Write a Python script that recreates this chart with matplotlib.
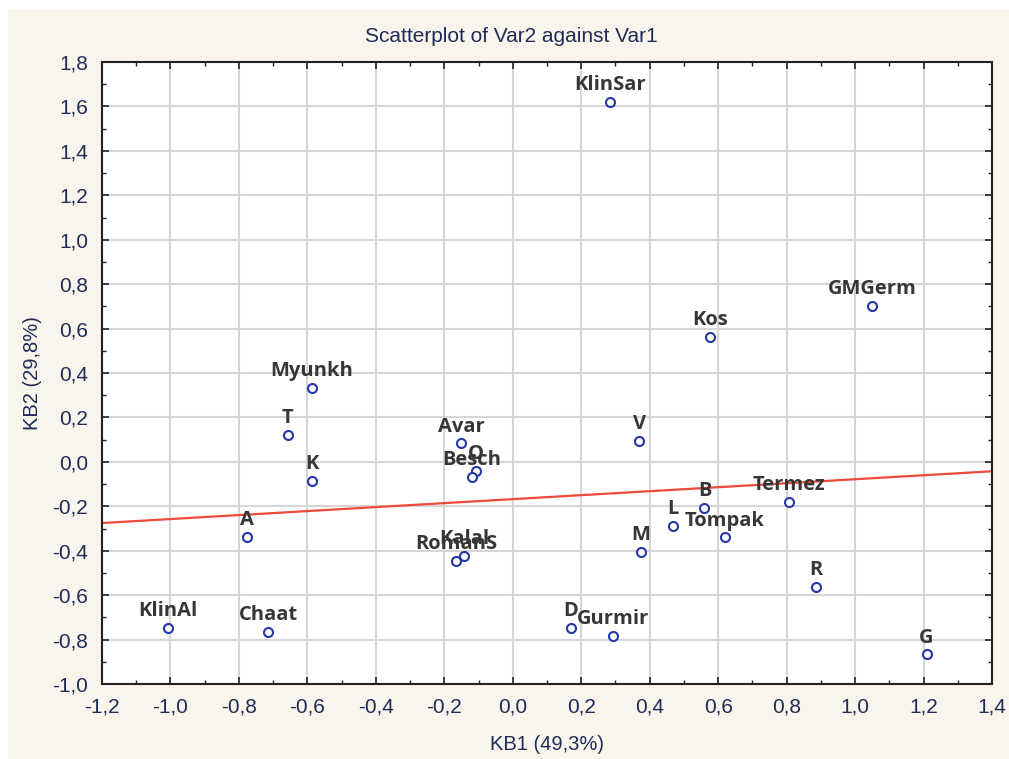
import numpy as np
import matplotlib
matplotlib.use('Agg')
import matplotlib.pyplot as plt
from matplotlib.patches import Rectangle
from matplotlib.ticker import MultipleLocator, FuncFormatter

names = ['KlinSar', 'GMGerm', 'Kos', 'Myunkh', 'T', 'K', 'Avar', 'O', 'Besch',
         'RomanS', 'Kalal', 'V', 'B', 'L', 'Tompak', 'M', 'Termez', 'R', 'G',
         'A', 'KlinAl', 'Chaat', 'D', 'Gurmir']
kb1 = [0.284, 1.050, 0.576, -0.587, -0.657, -0.587, -0.151, -0.107, -0.119,
       -0.166, -0.142, 0.369, 0.560, 0.469, 0.619, 0.374, 0.808, 0.885, 1.209,
       -0.776, -1.007, -0.715, 0.170, 0.293]
kb2 = [1.620, 0.701, 0.562, 0.332, 0.121, -0.087, 0.083, -0.041, -0.069,
       -0.447, -0.424, 0.094, -0.207, -0.288, -0.340, -0.405, -0.180, -0.564, -0.867,
       -0.339, -0.748, -0.766, -0.748, -0.784]

W, H = 1009, 759
fig = plt.figure(figsize=(W / 100, H / 100), dpi=100, facecolor='white')
fig.patches.append(Rectangle((8 / W, 0), 1, 1 - 10 / H, transform=fig.transFigure,
                             facecolor='#f9f5ec', edgecolor='none', zorder=-10))

ax = fig.add_axes([102 / W, 75 / H, 890 / W, 622 / H])
ax.set_facecolor('white')

tick_col = '#1f2c58'
comma = FuncFormatter(lambda v, p: f'{v:.1f}'.replace('.', ',').replace('-0,0', '0,0'))

# linear fit of KB2 on KB1
coef = np.polyfit(kb1, kb2, 1)
xl = np.array([-1.2, 1.4])
ax.plot(xl, np.polyval(coef, xl), color='#ec4b3c', lw=1.6, zorder=2)

ax.plot(kb1, kb2, 'o', ms=6.5, mfc='white', mec='#2438a8', mew=1.5, zorder=3, ls='none')

for n, x, y in zip(names, kb1, kb2):
    ax.annotate(n, (x, y), xytext=(0, 8.5), textcoords='offset points',
                ha='center', va='baseline', fontsize=14.5, fontweight='bold',
                family='Open Sans', color='#363636', zorder=4)

ax.set_xlim(-1.2, 1.4)
ax.set_ylim(-1.0, 1.8)
ax.xaxis.set_major_locator(MultipleLocator(0.2))
ax.yaxis.set_major_locator(MultipleLocator(0.2))
ax.xaxis.set_minor_locator(MultipleLocator(0.1))
ax.yaxis.set_minor_locator(MultipleLocator(0.1))
ax.xaxis.set_major_formatter(comma)
ax.yaxis.set_major_formatter(comma)
ax.grid(True, which='major', color='#d6d6d6', lw=1.5, zorder=0)
ax.set_axisbelow(True)
ax.tick_params(which='both', direction='in', top=True, right=True, color='#222222')
ax.tick_params(which='major', length=5, width=1.2, labelsize=15, labelcolor=tick_col, pad=10)
ax.tick_params(which='minor', length=3, width=1.0)
for lab in ax.get_xticklabels() + ax.get_yticklabels():
    lab.set_family('Liberation Sans')
for s in ax.spines.values():
    s.set_color('#222222')
    s.set_linewidth(1.5)

fig.text(511 / W, 1 - 37 / H, 'Scatterplot of Var2 against Var1', ha='center', va='center',
         fontsize=15, family='Liberation Sans', color=tick_col)
fig.text(547 / W, 1 - 744 / H, 'KB1 (49,3%)', ha='center', va='center',
         fontsize=14.5, family='Liberation Sans', color=tick_col)
fig.text(32 / W, 1 - 373 / H, 'KB2 (29,8%)', ha='center', va='center', rotation=90,
         fontsize=14.5, family='Liberation Sans', color=tick_col)

fig.savefig('out.png', dpi=100, facecolor=fig.get_facecolor())
